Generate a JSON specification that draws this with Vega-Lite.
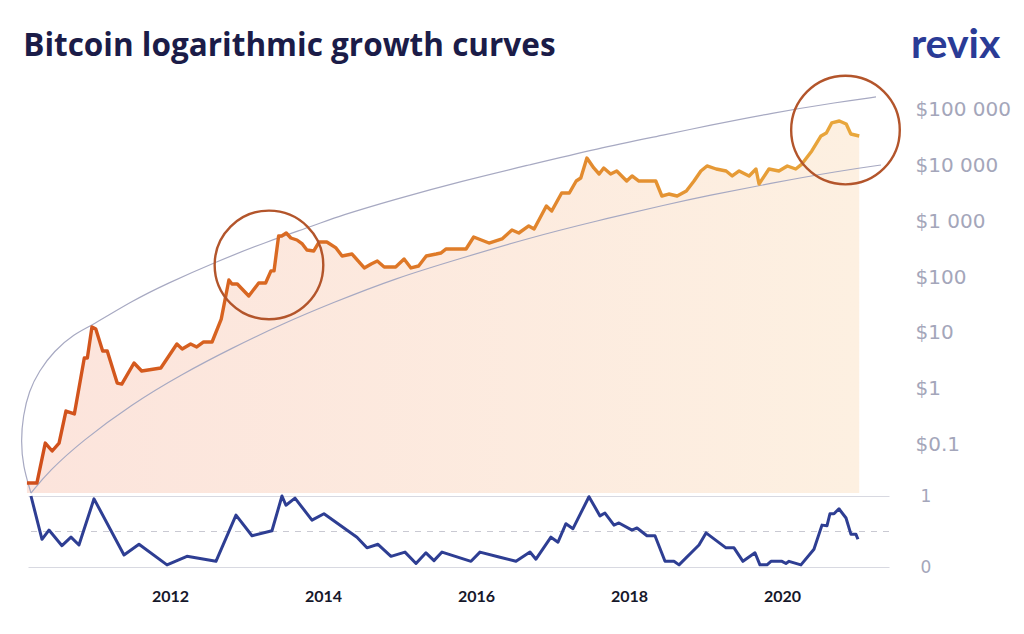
{
  "$schema": "https://vega.github.io/schema/vega-lite/v6.json",
  "background": "white",
  "padding": {"left": 19, "top": 24, "right": 0, "bottom": 0},
  "spacing": -13,
  "title": {
    "text": "Bitcoin logarithmic growth curves",
    "anchor": "start",
    "frame": "bounds",
    "font": "Open Sans",
    "fontSize": 31.5,
    "fontWeight": "bold",
    "color": "#1b1c48",
    "offset": -38,
    "dx": 4
  },
  "config": {
    "view": {"stroke": null}
  },
  "datasets": {
    "price": [
      {"t": 2010.13, "price": 0.0204}, {"t": 2010.26, "price": 0.0204}, {"t": 2010.37, "price": 0.106},
      {"t": 2010.46, "price": 0.0765}, {"t": 2010.55, "price": 0.106}, {"t": 2010.64, "price": 0.398},
      {"t": 2010.75, "price": 0.353}, {"t": 2010.88, "price": 3.55}, {"t": 2010.92, "price": 3.55},
      {"t": 2010.98, "price": 12.8}, {"t": 2011.03, "price": 11.7}, {"t": 2011.12, "price": 4.74},
      {"t": 2011.18, "price": 4.74}, {"t": 2011.31, "price": 1.26}, {"t": 2011.37, "price": 1.21},
      {"t": 2011.53, "price": 2.89}, {"t": 2011.63, "price": 2.08}, {"t": 2011.88, "price": 2.35},
      {"t": 2012.09, "price": 6.32}, {"t": 2012.16, "price": 5.14}, {"t": 2012.27, "price": 6.32},
      {"t": 2012.35, "price": 5.59}, {"t": 2012.44, "price": 6.87}, {"t": 2012.55, "price": 6.87},
      {"t": 2012.67, "price": 17.7}, {"t": 2012.77, "price": 88.7}, {"t": 2012.81, "price": 75.2},
      {"t": 2012.88, "price": 75.2}, {"t": 2012.93, "price": 63.8}, {"t": 2013.03, "price": 45.8},
      {"t": 2013.16, "price": 78.4}, {"t": 2013.25, "price": 78.4}, {"t": 2013.32, "price": 129},
      {"t": 2013.36, "price": 129}, {"t": 2013.42, "price": 546}, {"t": 2013.46, "price": 546},
      {"t": 2013.52, "price": 617}, {"t": 2013.58, "price": 502}, {"t": 2013.66, "price": 462},
      {"t": 2013.73, "price": 392}, {"t": 2013.79, "price": 306}, {"t": 2013.88, "price": 294},
      {"t": 2013.95, "price": 426}, {"t": 2014.05, "price": 426}, {"t": 2014.17, "price": 333},
      {"t": 2014.25, "price": 239}, {"t": 2014.38, "price": 259}, {"t": 2014.54, "price": 146},
      {"t": 2014.63, "price": 172}, {"t": 2014.71, "price": 194}, {"t": 2014.8, "price": 152},
      {"t": 2014.95, "price": 152}, {"t": 2015.06, "price": 211}, {"t": 2015.15, "price": 146},
      {"t": 2015.25, "price": 158}, {"t": 2015.35, "price": 239}, {"t": 2015.48, "price": 259},
      {"t": 2015.54, "price": 270}, {"t": 2015.61, "price": 319}, {"t": 2015.87, "price": 319},
      {"t": 2015.97, "price": 523}, {"t": 2016.17, "price": 408}, {"t": 2016.34, "price": 482},
      {"t": 2016.47, "price": 698}, {"t": 2016.56, "price": 617}, {"t": 2016.69, "price": 824},
      {"t": 2016.76, "price": 728}, {"t": 2016.92, "price": 1880}, {"t": 2016.99, "price": 1530},
      {"t": 2017.12, "price": 3210}, {"t": 2017.22, "price": 3210}, {"t": 2017.31, "price": 5270},
      {"t": 2017.37, "price": 5970}, {"t": 2017.45, "price": 13600}, {"t": 2017.54, "price": 9020},
      {"t": 2017.61, "price": 7040}, {"t": 2017.67, "price": 9020}, {"t": 2017.76, "price": 7040},
      {"t": 2017.84, "price": 7970}, {"t": 2017.97, "price": 5270}, {"t": 2018.04, "price": 6490},
      {"t": 2018.13, "price": 5270}, {"t": 2018.35, "price": 5270}, {"t": 2018.43, "price": 2840},
      {"t": 2018.52, "price": 3080}, {"t": 2018.63, "price": 2840}, {"t": 2018.75, "price": 3490},
      {"t": 2018.85, "price": 5270}, {"t": 2018.94, "price": 7970}, {"t": 2019.02, "price": 9800},
      {"t": 2019.14, "price": 8650}, {"t": 2019.27, "price": 7970}, {"t": 2019.35, "price": 6490},
      {"t": 2019.44, "price": 7970}, {"t": 2019.57, "price": 6490}, {"t": 2019.66, "price": 8650},
      {"t": 2019.7, "price": 4660}, {"t": 2019.83, "price": 8650}, {"t": 2019.96, "price": 7970},
      {"t": 2020.07, "price": 9800}, {"t": 2020.18, "price": 8650}, {"t": 2020.26, "price": 10600},
      {"t": 2020.39, "price": 18200}, {"t": 2020.51, "price": 33800}, {"t": 2020.58, "price": 38200},
      {"t": 2020.65, "price": 57800}, {"t": 2020.75, "price": 62700}, {"t": 2020.84, "price": 55400},
      {"t": 2020.9, "price": 36700}, {"t": 2021.01, "price": 33800}
    ],
    "curves": [
      {"curve": "upper", "i": 0, "t": 2010.183, "price": 0.0135},
      {"curve": "upper", "i": 1, "t": 2010.078, "price": 0.0412},
      {"curve": "upper", "i": 2, "t": 2010.052, "price": 0.1155},
      {"curve": "upper", "i": 3, "t": 2010.078, "price": 0.324},
      {"curve": "upper", "i": 4, "t": 2010.157, "price": 0.91},
      {"curve": "upper", "i": 5, "t": 2010.288, "price": 2.08},
      {"curve": "upper", "i": 6, "t": 2010.484, "price": 4.74},
      {"curve": "upper", "i": 7, "t": 2010.745, "price": 9.55},
      {"curve": "upper", "i": 8, "t": 2010.967, "price": 13.3},
      {"curve": "upper", "i": 9, "t": 2011.503, "price": 37.3},
      {"curve": "upper", "i": 10, "t": 2011.948, "price": 75.2},
      {"curve": "upper", "i": 11, "t": 2012.601, "price": 187},
      {"curve": "upper", "i": 12, "t": 2013.255, "price": 426},
      {"curve": "upper", "i": 13, "t": 2013.908, "price": 859},
      {"curve": "upper", "i": 14, "t": 2014.209, "price": 1245},
      {"curve": "upper", "i": 15, "t": 2014.954, "price": 2510},
      {"curve": "upper", "i": 16, "t": 2015.817, "price": 5270},
      {"curve": "upper", "i": 17, "t": 2016.693, "price": 10200},
      {"curve": "upper", "i": 18, "t": 2017.569, "price": 19800},
      {"curve": "upper", "i": 19, "t": 2018.523, "price": 36700},
      {"curve": "upper", "i": 20, "t": 2019.007, "price": 51000},
      {"curve": "upper", "i": 21, "t": 2019.869, "price": 87300},
      {"curve": "upper", "i": 22, "t": 2020.745, "price": 137000},
      {"curve": "upper", "i": 23, "t": 2021.229, "price": 169000},
      {"curve": "lower", "i": 0, "t": 2010.183, "price": 0.0135},
      {"curve": "lower", "i": 1, "t": 2010.418, "price": 0.0335},
      {"curve": "lower", "i": 2, "t": 2010.85, "price": 0.1155},
      {"curve": "lower", "i": 3, "t": 2011.503, "price": 0.532},
      {"curve": "lower", "i": 4, "t": 2012.157, "price": 1.83},
      {"curve": "lower", "i": 5, "t": 2012.81, "price": 5.36},
      {"curve": "lower", "i": 6, "t": 2013.464, "price": 14.4},
      {"curve": "lower", "i": 7, "t": 2014.118, "price": 34.4},
      {"curve": "lower", "i": 8, "t": 2014.954, "price": 96.4},
      {"curve": "lower", "i": 9, "t": 2015.817, "price": 220},
      {"curve": "lower", "i": 10, "t": 2016.693, "price": 502},
      {"curve": "lower", "i": 11, "t": 2017.569, "price": 1012},
      {"curve": "lower", "i": 12, "t": 2018.523, "price": 2040},
      {"curve": "lower", "i": 13, "t": 2019.007, "price": 2840},
      {"curve": "lower", "i": 14, "t": 2019.869, "price": 4860},
      {"curve": "lower", "i": 15, "t": 2020.745, "price": 7970},
      {"curve": "lower", "i": 16, "t": 2021.294, "price": 10200}
    ],
    "circles": [
      {"t": 2013.294, "price": 165},
      {"t": 2020.83, "price": 43200}
    ],
    "osc": [
      {"t": 2010.183, "v": 1.0}, {"t": 2010.327, "v": 0.39}, {"t": 2010.418, "v": 0.52},
      {"t": 2010.588, "v": 0.3}, {"t": 2010.706, "v": 0.42}, {"t": 2010.81, "v": 0.31},
      {"t": 2011.007, "v": 0.96}, {"t": 2011.399, "v": 0.17}, {"t": 2011.595, "v": 0.32},
      {"t": 2011.961, "v": 0.03}, {"t": 2012.222, "v": 0.15}, {"t": 2012.601, "v": 0.08},
      {"t": 2012.863, "v": 0.73}, {"t": 2013.072, "v": 0.44}, {"t": 2013.333, "v": 0.51},
      {"t": 2013.464, "v": 1.0}, {"t": 2013.516, "v": 0.87}, {"t": 2013.634, "v": 0.97},
      {"t": 2013.856, "v": 0.66}, {"t": 2014.013, "v": 0.75}, {"t": 2014.444, "v": 0.42},
      {"t": 2014.575, "v": 0.27}, {"t": 2014.719, "v": 0.32}, {"t": 2014.889, "v": 0.15},
      {"t": 2015.072, "v": 0.21}, {"t": 2015.216, "v": 0.05}, {"t": 2015.346, "v": 0.2},
      {"t": 2015.451, "v": 0.09}, {"t": 2015.556, "v": 0.21}, {"t": 2015.935, "v": 0.08},
      {"t": 2016.052, "v": 0.21}, {"t": 2016.301, "v": 0.14}, {"t": 2016.523, "v": 0.08},
      {"t": 2016.706, "v": 0.21}, {"t": 2016.784, "v": 0.11}, {"t": 2016.98, "v": 0.42},
      {"t": 2017.072, "v": 0.35}, {"t": 2017.176, "v": 0.61}, {"t": 2017.268, "v": 0.54},
      {"t": 2017.477, "v": 0.99}, {"t": 2017.621, "v": 0.72}, {"t": 2017.686, "v": 0.76},
      {"t": 2017.804, "v": 0.59}, {"t": 2017.869, "v": 0.62}, {"t": 2018.039, "v": 0.52},
      {"t": 2018.105, "v": 0.55}, {"t": 2018.235, "v": 0.44}, {"t": 2018.34, "v": 0.44},
      {"t": 2018.471, "v": 0.08}, {"t": 2018.588, "v": 0.08}, {"t": 2018.654, "v": 0.03},
      {"t": 2018.915, "v": 0.31}, {"t": 2019.007, "v": 0.48}, {"t": 2019.268, "v": 0.27},
      {"t": 2019.373, "v": 0.27}, {"t": 2019.49, "v": 0.08}, {"t": 2019.647, "v": 0.2},
      {"t": 2019.712, "v": 0.03}, {"t": 2019.804, "v": 0.03}, {"t": 2019.856, "v": 0.08},
      {"t": 2020.0, "v": 0.08}, {"t": 2020.052, "v": 0.05}, {"t": 2020.092, "v": 0.08},
      {"t": 2020.248, "v": 0.03}, {"t": 2020.418, "v": 0.25}, {"t": 2020.523, "v": 0.59},
      {"t": 2020.588, "v": 0.58}, {"t": 2020.627, "v": 0.75}, {"t": 2020.68, "v": 0.75},
      {"t": 2020.745, "v": 0.82}, {"t": 2020.837, "v": 0.69}, {"t": 2020.902, "v": 0.46},
      {"t": 2020.967, "v": 0.46}, {"t": 2020.993, "v": 0.39}
    ]
  },
  "vconcat": [
    {
      "width": 861,
      "height": 412,
      "title": {
        "text": "revix",
        "anchor": "end",
        "frame": "bounds",
        "font": "Lato",
        "fontSize": 41,
        "fontWeight": "bold",
        "color": "#2a3b96",
        "dx": -10
      },
      "encoding": {
        "x": {
          "field": "t",
          "type": "quantitative",
          "scale": {"domain": [2010.144, 2021.399], "nice": false, "zero": false},
          "axis": null
        },
        "y": {
          "field": "price",
          "type": "quantitative",
          "scale": {"type": "log", "domain": [0.01352, 326600], "nice": false},
          "axis": {
            "orient": "right",
            "title": null,
            "values": [0.1, 1, 10, 100, 1000, 10000, 100000],
            "labelExpr": "'$' + replace(format(datum.value, ','), ',', ' ')",
            "ticks": false,
            "domain": false,
            "grid": false,
            "labelFont": "DejaVu Sans",
            "labelFontSize": 20,
            "labelColor": "#a4a6ba",
            "labelPadding": 26
          }
        }
      },
      "layer": [
        {
          "data": {"name": "price"},
          "mark": {
            "type": "area",
            "opacity": 1,
            "fill": {
              "gradient": "linear",
              "x1": 0, "y1": 0, "x2": 1, "y2": 0,
              "stops": [
                {"offset": 0, "color": "#fce4dc"},
                {"offset": 1, "color": "#fdf0e1"}
              ]
            }
          },
          "encoding": {"y2": {"datum": 0.01352}}
        },
        {
          "data": {"name": "curves"},
          "mark": {"type": "line", "stroke": "#a7a9c2", "strokeWidth": 1.2, "interpolate": "basis"},
          "encoding": {
            "detail": {"field": "curve"},
            "order": {"field": "i", "type": "quantitative"}
          }
        },
        {
          "data": {"name": "price"},
          "mark": {
            "type": "line",
            "strokeWidth": 3.4,
            "strokeJoin": "round",
            "stroke": {
              "gradient": "linear",
              "x1": 0, "y1": 0, "x2": 1, "y2": 0,
              "stops": [
                {"offset": 0, "color": "#d04e1b"},
                {"offset": 0.45, "color": "#de7726"},
                {"offset": 1, "color": "#e9a83c"}
              ]
            }
          }
        },
        {
          "data": {"name": "circles"},
          "mark": {
            "type": "point",
            "shape": "circle",
            "filled": false,
            "size": 11800,
            "stroke": "#b3552b",
            "strokeWidth": 2.4,
            "opacity": 1
          }
        }
      ]
    },
    {
      "width": 861,
      "height": 71,
      "data": {"name": "osc"},
      "layer": [
        {
          "mark": {"type": "rule", "stroke": "#c9c9d2", "strokeDash": [6, 6], "strokeWidth": 1},
          "encoding": {"y": {"datum": 0.5, "type": "quantitative"}}
        },
        {
          "mark": {"type": "line", "stroke": "#2e3e93", "strokeWidth": 3, "strokeJoin": "round"},
          "encoding": {
            "x": {
              "field": "t",
              "type": "quantitative",
              "scale": {"domain": [2010.144, 2021.399], "nice": false, "zero": false},
              "axis": {
                "title": null,
                "values": [2012, 2014, 2016, 2018, 2020],
                "format": "d",
                "ticks": false,
                "domain": false,
                "grid": false,
                "labelFont": "Lato",
                "labelFontSize": 16,
                "labelFontWeight": "bold",
                "labelColor": "#16172a",
                "labelPadding": 21
              }
            },
            "y": {
              "field": "v",
              "type": "quantitative",
              "scale": {"domain": [0, 1], "nice": false},
              "axis": {
                "orient": "right",
                "title": null,
                "values": [0, 1],
                "format": "d",
                "ticks": false,
                "domain": false,
                "grid": true,
                "gridColor": "#d8d9e1",
                "gridWidth": 1,
                "labelFont": "DejaVu Sans",
                "labelFontSize": 17,
                "labelColor": "#a4a6ba",
                "labelPadding": 31
              }
            }
          }
        }
      ]
    }
  ]
}
